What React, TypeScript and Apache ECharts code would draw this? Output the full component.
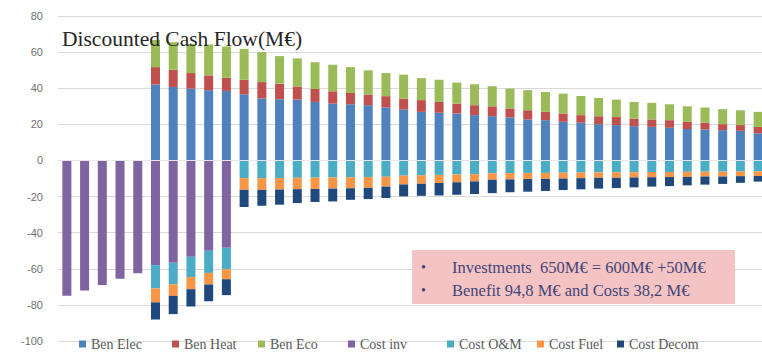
import React, { useEffect, useRef } from "react";
import * as echarts from "echarts";

// Years of the project life (0-4 construction, 5-9 ramp-up, 10-39 operation)
const years: string[] = Array.from({ length: 40 }, (_, i) => String(i + 1));

const benElec: (number | null)[] = [
  null, null, null, null, null,
  42.1, 40.7, 39.8, 38.9, 38.5,
  36.6, 34.3, 33.9, 33.7, 32.4, 31.5, 31.1, 30.6, 29.3, 28.2,
  26.9, 26.4, 26.0, 25.1, 24.5, 23.8, 22.7, 22.3, 21.4, 20.9,
  20.1, 19.6, 19.0, 18.6, 18.1, 17.4, 17.2, 16.8, 16.4, 15.0,
];
const benHeat: (number | null)[] = [
  null, null, null, null, null,
  9.6, 9.5, 8.6, 8.2, 7.3,
  8.1, 9.1, 8.6, 7.3, 7.2, 6.8, 6.3, 5.9, 6.3, 6.1,
  6.5, 6.0, 5.5, 5.5, 5.5, 5.0, 5.1, 4.6, 4.6, 4.2,
  4.4, 4.5, 4.2, 4.1, 4.2, 4.0, 3.7, 3.3, 3.2, 3.6,
];
const benEco: (number | null)[] = [
  null, null, null, null, null,
  15.0, 15.3, 16.2, 17.1, 17.3,
  17.1, 16.6, 15.3, 15.5, 14.8, 14.7, 14.3, 13.4, 12.8, 13.2,
  12.2, 12.3, 11.6, 11.6, 11.1, 11.0, 11.1, 11.0, 11.0, 10.6,
  10.1, 9.6, 9.2, 9.2, 8.8, 8.6, 8.4, 8.3, 8.2, 8.3,
];
const costInv: (number | null)[] = [
  -75.0, -72.0, -69.0, -65.5, -62.5,
  -58.0, -56.7, -53.3, -50.0, -48.4,
  null, null, null, null, null, null, null, null, null, null,
  null, null, null, null, null, null, null, null, null, null,
  null, null, null, null, null, null, null, null, null, null,
];
const costOM: (number | null)[] = [
  null, null, null, null, null,
  -12.9, -11.9, -11.3, -12.3, -11.9,
  -9.8, -9.8, -9.7, -9.6, -9.5, -9.4, -9.3, -9.2, -9.0, -8.4,
  -8.2, -8.0, -7.8, -7.6, -7.1, -7.0, -6.9, -6.9, -6.8, -6.7,
  -6.6, -6.6, -6.5, -6.4, -6.4, -6.3, -6.2, -6.2, -6.1, -6.0,
];
const costFuel: (number | null)[] = [
  null, null, null, null, null,
  -7.7, -6.4, -6.7, -6.4, -5.5,
  -6.5, -6.5, -6.4, -6.3, -6.3, -6.2, -6.1, -6.0, -5.5, -4.9,
  -4.7, -4.5, -4.3, -4.0, -3.6, -3.5, -3.4, -3.3, -3.2, -3.1,
  -3.0, -3.0, -2.9, -2.9, -2.8, -2.8, -2.7, -2.7, -2.6, -2.6,
];
const costDecom: (number | null)[] = [
  null, null, null, null, null,
  -9.5, -10.1, -9.6, -9.3, -8.8,
  -9.5, -8.8, -8.4, -7.7, -7.2, -7.1, -6.4, -6.2, -6.3, -6.6,
  -6.7, -6.9, -6.9, -7.0, -7.4, -7.1, -7.0, -6.7, -6.4, -6.2,
  -6.0, -5.7, -5.5, -5.2, -5.0, -4.7, -4.5, -4.1, -3.7, -3.1,
];

const seriesNames: string[] = [
  "Ben Elec", "Ben Heat", "Ben Eco", "Cost inv", "Cost O&M", "Cost Fuel", "Cost Decom",
];
const seriesColors: string[] = [
  "#4F81BD", "#C0504D", "#9BBB59", "#8064A2", "#4BACC6", "#F79646", "#1F497D",
];
const seriesValues = [benElec, benHeat, benEco, costInv, costOM, costFuel, costDecom];

const yTicks = { min: -100, max: 80, step: 20 };

const chartTitle = "Discounted Cash Flow(M€)";
const notes: string[] = [
  "Investments  650M€ = 600M€ +50M€",
  "Benefit 94,8 M€ and Costs 38,2 M€",
];

// left edge of each legend entry along the bottom row
const legendLefts: number[] = [79, 172, 258, 348, 447, 537, 617];

const serif = "'Liberation Serif', 'Times New Roman', serif";

export default function App() {
  const ref = useRef<HTMLDivElement>(null);

  useEffect(() => {
    if (!ref.current) return;
    const chart = echarts.init(ref.current, undefined, { renderer: "svg" });

    const series = seriesNames.map((name, i) => ({
      name,
      type: "bar" as const,
      stack: "cash",
      stackStrategy: "samesign",
      barWidth: 9,
      data: seriesValues[i],
      itemStyle: { color: seriesColors[i] },
    }));

    const legends = seriesNames.map((name, i) => ({
      data: [name],
      left: legendLefts[i],
      top: 337,
      padding: 0,
      itemWidth: 7,
      itemHeight: 7,
      icon: "rect",
      itemGap: 4,
      textStyle: { fontFamily: serif, fontSize: 14, color: "#595959" },
      selectedMode: false,
    }));

    chart.setOption({
      animation: false,
      backgroundColor: "#ffffff",
      color: seriesColors,
      title: {
        text: chartTitle,
        left: 62,
        top: 28,
        padding: 0,
        textStyle: {
          fontFamily: serif,
          fontSize: 21.5,
          fontWeight: "normal",
          color: "#262626",
        },
      },
      legend: legends,
      grid: {
        left: 58,
        top: 16,
        width: 709,
        bottom: 13,
        containLabel: false,
        outerBoundsMode: "none",
      },
      xAxis: {
        type: "category",
        data: years,
        z: 3,
        axisLine: { show: true, onZero: true, lineStyle: { color: "#E6E6E6", width: 1 } },
        axisTick: { show: false },
        axisLabel: { show: false },
      },
      yAxis: {
        type: "value",
        min: yTicks.min,
        max: yTicks.max,
        interval: yTicks.step,
        axisLine: { show: false },
        axisTick: { show: false },
        axisLabel: {
          margin: 15,
          fontFamily: "'Liberation Sans', Arial, sans-serif",
          fontSize: 11,
          color: "#707070",
        },
        splitLine: { lineStyle: { color: "#D9D9D9", width: 1 } },
      },
      series,
      graphic: [
        {
          type: "rect",
          z: 10,
          shape: { x: 412, y: 250, width: 323, height: 54 },
          style: { fill: "#F4C4C4" },
        },
        ...notes.flatMap((line, i) => [
          {
            type: "text",
            z: 11,
            x: 421,
            y: 267 + i * 23,
            style: {
              text: "•",
              fontFamily: serif,
              fontSize: 14,
              fill: "#44447A",
              verticalAlign: "middle",
            },
          },
          {
            type: "text",
            z: 11,
            x: 452,
            y: 267 + i * 23,
            style: {
              text: line,
              fontFamily: serif,
              fontSize: 16.5,
              fill: "#44447A",
              verticalAlign: "middle",
            },
          },
        ]),
      ],
    });

    return () => chart.dispose();
  }, []);

  return (
    <div
      ref={ref}
      style={{ position: "absolute", left: 0, top: 0, width: 762, height: 354 }}
    />
  );
}
